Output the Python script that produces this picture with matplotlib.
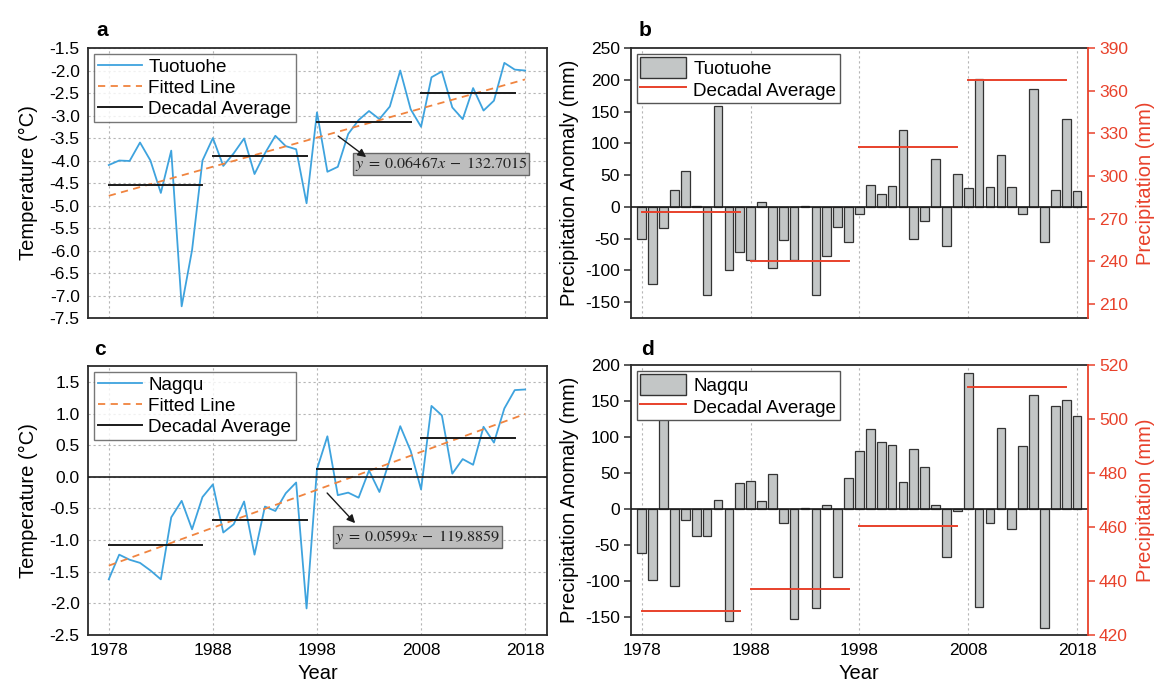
import numpy as np
import matplotlib
matplotlib.use('Agg')
import matplotlib.pyplot as plt
from matplotlib.lines import Line2D
from matplotlib.patches import Patch

plt.rcParams['font.family'] = ['Liberation Sans', 'DejaVu Sans']
plt.rcParams['mathtext.fontset'] = 'stix'

# ── data ──
years = np.arange(1978, 2019)
decade_starts = [1978, 1988, 1998, 2008]

temp_tuotuohe = [-4.1, -4.0, -4.01, -3.6, -4.0, -4.72, -3.78, -7.24, -5.99, -4.0,
                 -3.5, -4.12, -3.84, -3.51, -4.3, -3.84, -3.45, -3.68, -3.75, -4.95,
                 -2.93, -4.25, -4.14, -3.41, -3.1, -2.9, -3.08, -2.8, -2.0, -2.86,
                 -3.25, -2.15, -2.02, -2.82, -3.08, -2.39, -2.89, -2.67, -1.83, -1.98,
                 -2.0]
temp_tuotuohe_dec = [-4.54, -3.9, -3.15, -2.5]
fit_tuotuohe = (0.06467, -132.7015)

temp_nagqu = [-1.62, -1.23, -1.31, -1.36, -1.48, -1.62, -0.64, -0.38, -0.83, -0.32,
              -0.12, -0.88, -0.75, -0.39, -1.23, -0.47, -0.54, -0.26, -0.09, -2.08,
              0.12, 0.64, -0.29, -0.25, -0.33, 0.1, -0.24, 0.27, 0.8, 0.41,
              -0.2, 1.12, 0.97, 0.05, 0.28, 0.19, 0.79, 0.54, 1.08, 1.37,
              1.38]
temp_nagqu_dec = [-1.08, -0.68, 0.13, 0.62]
fit_nagqu = (0.0599, -119.8859)

prec_anom_tuotuohe = [-51, -121, -33, 27, 56, 1, -138, 158, -99, -71,
                      -84, 8, -96, -52, -84, 1, -139, -78, -32, -56,
                      -12, 34, 21, 33, 121, -51, -22, 75, -62, 51,
                      29, 202, 31, 81, 32, -12, 186, -56, 27, 138,
                      25]
prec_tuotuohe_dec = [274.5, 240.4, 320.4, 367.2]

prec_anom_nagqu = [-61, -99, 128, -107, -15, -38, -37, 13, -155, 36,
                   39, 11, 48, -19, -153, 2, -138, 6, -94, 43,
                   80, 111, 93, 89, 38, 83, 58, 5, -67, -3,
                   189, -136, -20, 113, -28, 88, 159, -165, 143, 151,
                   129]
prec_nagqu_dec = [429.0, 437.2, 460.4, 511.9]

xticks = [1978, 1988, 1998, 2008, 2018]

# ── style ──
BLUE = '#3ea3de'
ORANGE = '#f0843f'
RED = '#e8412b'
BAR = '#c3c6c6'
SPINE = '#2b2b2b'
GRIDC = '#b5b5b5'
TICK_FS = 12.5
LAB_FS = 14.5
LEG_FS = 13.6

fig = plt.figure(figsize=(11.56, 6.86), dpi=100)
ax_a = fig.add_axes([0.0761, 0.5364, 0.3971, 0.3936])
ax_b = fig.add_axes([0.5458, 0.5364, 0.3953, 0.3936])
ax_c = fig.add_axes([0.0761, 0.0743, 0.3971, 0.3921])
ax_d = fig.add_axes([0.5458, 0.0743, 0.3953, 0.3936])


def style_spines(ax):
    for s in ax.spines.values():
        s.set_color(SPINE)
        s.set_linewidth(1.3)


def temp_panel(ax, series, decadal, fit, name, ylim, yticks, eq, box_xy, arr_tail, arr_head, show_x):
    ax.plot(years, series, color=BLUE, lw=1.3, label=name)
    fx = np.array([years[0], years[-1]])
    ax.plot(fx, fit[0] * fx + fit[1], color=ORANGE, lw=1.3, ls=(0, (4, 3)), label='Fitted Line')
    for i, (d0, v) in enumerate(zip(decade_starts, decadal)):
        ax.plot([d0, d0 + 9], [v, v], color='#1a1a1a', lw=1.4,
                label='Decadal Average' if i == 0 else None)
    ax.set_xlim(1976, 2020.1)
    ax.set_ylim(*ylim)
    ax.set_xticks(xticks)
    ax.set_yticks(yticks)
    ax.set_yticklabels([f'{t:.1f}' for t in yticks], fontsize=TICK_FS)
    ax.tick_params(axis='both', length=0, pad=6)
    ax.grid(True, color=GRIDC, ls=(0, (2, 2.5)), lw=0.8)
    ax.set_axisbelow(True)
    if show_x:
        ax.set_xticklabels([str(t) for t in xticks], fontsize=TICK_FS)
        ax.set_xlabel('Year', fontsize=LAB_FS)
    else:
        ax.set_xticklabels([])
    ax.set_ylabel('Temperature (°C)', fontsize=LAB_FS, labelpad=8)
    leg = ax.legend(loc='upper left', fontsize=LEG_FS, frameon=True, fancybox=False,
                    handlelength=2.3, borderaxespad=0.3, borderpad=0.25,
                    labelspacing=0.2, handletextpad=0.35)
    leg.get_frame().set_edgecolor('#555555')
    leg.get_frame().set_linewidth(1.0)
    ax.text(box_xy[0], box_xy[1], eq, transform=ax.transAxes, ha='center', va='center',
            fontsize=11.6, color='#222222',
            bbox=dict(boxstyle='square,pad=0.12', fc='#bdbdbd', ec='#666666', lw=1.0))
    ax.annotate('', xy=arr_head, xytext=arr_tail, xycoords='axes fraction',
                textcoords='axes fraction',
                arrowprops=dict(arrowstyle='-|>', color='#1a1a1a', lw=1.0,
                                mutation_scale=12, shrinkA=0, shrinkB=0))
    style_spines(ax)


def prec_panel(ax, anom, decadal, name, ylim, yticks, ylim2, yticks2, show_x):
    for t in xticks:
        ax.axvline(t, color=GRIDC, ls=(0, (2, 2.5)), lw=0.8, zorder=0)
    ax.bar(years, anom, width=0.8, color=BAR, edgecolor='#333333', lw=0.9, zorder=2)
    ax.axhline(0, color='#1a1a1a', lw=1.2, zorder=3)
    ax.set_xlim(1977, 2019)
    ax.set_ylim(*ylim)
    ax.set_xticks(xticks)
    ax.set_yticks(yticks)
    ax.set_yticklabels([str(t) for t in yticks], fontsize=TICK_FS)
    ax.tick_params(axis='y', length=5, width=1.1, direction='out', color=SPINE, pad=3)
    ax.tick_params(axis='x', length=0, pad=6)
    if show_x:
        ax.set_xticklabels([str(t) for t in xticks], fontsize=TICK_FS)
        ax.set_xlabel('Year', fontsize=LAB_FS)
    else:
        ax.set_xticklabels([])
    ax.set_ylabel('Precipitation Anomaly (mm)', fontsize=LAB_FS, labelpad=4)
    style_spines(ax)

    ax2 = ax.twinx()
    for d0, v in zip(decade_starts, decadal):
        ax2.plot([d0, d0 + 9], [v, v], color=RED, lw=1.4)
    ax2.set_ylim(*ylim2)
    ax2.set_yticks(yticks2)
    ax2.set_yticklabels([str(t) for t in yticks2], fontsize=TICK_FS, color=RED)
    ax2.tick_params(axis='y', length=5, width=1.1, direction='out', color=RED, pad=3)
    ax2.set_ylabel('Precipitation (mm)', fontsize=LAB_FS, color=RED, labelpad=6)
    for k, s in ax2.spines.items():
        s.set_visible(k == 'right')
    ax2.spines['right'].set_color(RED)
    ax2.spines['right'].set_linewidth(1.3)
    ax.spines['right'].set_visible(False)

    handles = [Patch(facecolor=BAR, edgecolor='#333333', lw=1.0),
               Line2D([], [], color=RED, lw=1.4)]
    leg = ax2.legend(handles, [name, 'Decadal Average'], loc='upper left', fontsize=LEG_FS,
                     frameon=True, fancybox=False, handlelength=2.4, handleheight=1.3,
                     borderaxespad=0.3, borderpad=0.2, labelspacing=0.05,
                     handletextpad=0.4, framealpha=1)
    leg.get_frame().set_edgecolor('#555555')
    leg.get_frame().set_linewidth(1.0)


temp_panel(ax_a, temp_tuotuohe, temp_tuotuohe_dec, fit_tuotuohe, 'Tuotuohe',
           (-7.5, -1.5), np.arange(-7.5, -1.49, 0.5),
           r'$y\;=\;0.06467x\;-\;132.7015$', (0.769, 0.570), (0.545, 0.674), (0.606, 0.596),
           show_x=False)
temp_panel(ax_c, temp_nagqu, temp_nagqu_dec, fit_nagqu, 'Nagqu',
           (-2.5, 1.75), np.arange(-2.5, 1.51, 0.5),
           r'$y\;=\;0.0599x\;-\;119.8859$', (0.718, 0.366), (0.521, 0.528), (0.582, 0.416),
           show_x=True)
ax_c.axhline(0, color='#1a1a1a', lw=1.2, zorder=3)

prec_panel(ax_b, prec_anom_tuotuohe, prec_tuotuohe_dec, 'Tuotuohe',
           (-175, 250), list(range(-150, 251, 50)),
           (200, 390), list(range(210, 391, 30)), show_x=False)
prec_panel(ax_d, prec_anom_nagqu, prec_nagqu_dec, 'Nagqu',
           (-175, 200), list(range(-150, 201, 50)),
           (420, 520), list(range(420, 521, 20)), show_x=True)

for lab, x, y in [('a', 0.083, 0.955), ('b', 0.552, 0.955), ('c', 0.081, 0.49), ('d', 0.555, 0.49)]:
    fig.text(x, y, lab, fontsize=15, fontweight='bold', ha='left', va='center')

fig.savefig('out.png', dpi=100)
